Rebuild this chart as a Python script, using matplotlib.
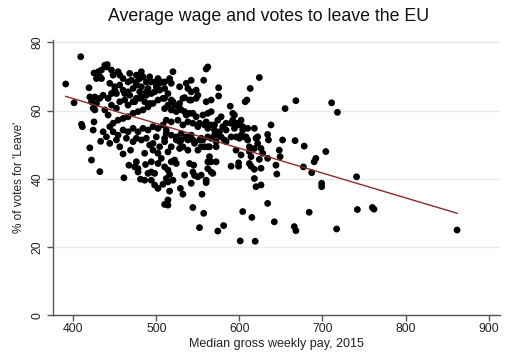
import numpy as np
import matplotlib
matplotlib.use("Agg")
import matplotlib.pyplot as plt

plt.rcParams['font.family'] = ['Liberation Sans', 'DejaVu Sans']

# median gross weekly pay (GBP, 2015) per local authority
pay = [
    391, 409, 401, 410, 411, 420, 422, 432, 425, 433,
    419, 425, 432, 441, 420, 422, 426, 430, 434, 438,
    440, 446, 448, 454, 456, 460, 434, 428, 444, 450,
    456, 466, 470, 476, 480, 488, 492, 498, 504, 500,
    426, 432, 436, 442, 424, 428, 438, 442, 446, 452,
    456, 462, 466, 472, 476, 482, 488, 494, 498, 504,
    510, 508, 502, 496, 490, 484, 478, 472, 466, 460,
    454, 448, 444, 424, 436, 440, 448, 454, 460, 466,
    472, 478, 484, 490, 496, 502, 508, 512, 476, 488,
    500, 510, 464, 452, 476, 482, 490, 502, 506, 472,
    466, 460, 480, 488, 452, 446, 482, 476, 468, 484,
    494, 538, 540, 532, 518, 522, 528, 548, 557, 514,
    510, 492, 486, 480, 474, 468, 462, 450, 518, 510,
    516, 520, 528, 536, 542, 562, 560, 624, 613, 609,
    607, 542, 550, 575, 575, 589, 592, 594, 534, 542,
    520, 528, 514, 510, 518, 524, 530, 536, 544, 548,
    556, 562, 566, 512, 518, 526, 532, 538, 544, 550,
    558, 562, 570, 574, 576, 584, 590, 594, 600, 604,
    610, 618, 622, 512, 518, 524, 530, 536, 542, 554,
    562, 570, 590, 602, 668, 655, 638, 634, 635, 652,
    667, 678, 626, 648, 649, 634, 612, 614, 624, 644,
    692, 690, 704, 677, 687, 645, 590, 614, 618, 620,
    626, 699, 699, 711, 718, 741, 684, 742, 760, 762,
    717, 862, 668, 666, 545, 544, 546, 550, 562, 562,
    566, 568, 560, 560, 572, 599, 599, 612, 618, 532,
    529, 555, 544, 557, 552, 574, 581, 601, 619, 634,
    604, 615, 642, 514, 514, 516, 514, 510, 514, 512,
    516, 522, 524, 554, 564, 626, 461, 460, 469, 467,
    476, 478, 478, 481, 487, 494, 494, 498, 494, 498,
    502, 508, 510, 502, 474, 486, 490, 502, 506, 518,
    520, 534, 542, 540, 444, 456, 472, 482, 496, 510,
    524, 532, 538, 546, 554, 556, 492, 504, 496, 486,
    528, 518, 514, 528, 538, 550, 562, 566, 572, 578,
    584, 600, 608, 620, 596, 602, 618, 622, 628, 580,
    602, 606, 610, 612, 596, 582, 574, 564, 572, 558,
    552, 544, 530, 566, 548, 560, 566, 578, 584, 592,
    596, 604, 534, 540, 552, 560, 566, 570,
]

# share of votes for Leave (%)
leave = [
    67.8, 75.8, 62.3, 56.0, 55.3, 49.1, 45.5, 42.1, 56.7, 51.0,
    66.7, 71.0, 70.0, 73.5, 64.0, 62.6, 60.2, 71.4, 71.9, 73.3,
    72.8, 71.9, 70.4, 71.4, 70.4, 69.4, 69.4, 69.4, 68.0, 67.0,
    67.5, 68.4, 68.9, 68.4, 69.4, 68.4, 69.9, 68.4, 68.0, 67.0,
    64.0, 63.6, 64.5, 63.6, 60.7, 62.1, 60.2, 58.7, 61.6, 60.7,
    62.6, 63.1, 61.6, 62.6, 63.6, 64.0, 64.5, 65.0, 65.5, 66.0,
    66.5, 63.6, 63.1, 62.1, 61.1, 60.2, 59.7, 59.2, 58.2, 57.7,
    57.2, 56.3, 55.3, 54.3, 53.8, 52.3, 53.8, 52.8, 54.3, 53.8,
    54.8, 53.8, 54.8, 54.3, 55.3, 54.8, 55.8, 54.3, 51.9, 51.9,
    52.3, 51.9, 51.9, 51.4, 67.5, 67.0, 66.5, 69.4, 68.4, 66.5,
    65.5, 66.0, 65.5, 65.5, 65.0, 65.0, 71.4, 70.4, 70.9, 69.9,
    68.4, 66.5, 63.1, 63.6, 63.1, 61.6, 60.7, 66.0, 68.9, 65.0,
    63.6, 62.1, 62.6, 63.6, 62.6, 64.5, 65.0, 66.0, 68.0, 68.4,
    69.4, 71.4, 67.0, 68.0, 68.9, 72.8, 72.2, 69.7, 66.5, 63.1,
    62.6, 65.5, 64.5, 66.7, 64.3, 61.3, 59.2, 58.7, 63.8, 63.1,
    62.6, 62.1, 61.6, 60.6, 60.2, 59.7, 60.2, 58.7, 59.2, 58.2,
    58.7, 59.2, 59.7, 57.2, 56.7, 57.2, 55.8, 56.7, 56.3, 55.3,
    55.8, 54.8, 55.8, 57.2, 53.8, 54.3, 56.3, 54.8, 55.8, 54.3,
    54.8, 54.8, 52.3, 53.3, 52.8, 52.3, 53.3, 52.3, 52.8, 51.9,
    52.3, 52.8, 52.3, 52.8, 62.9, 60.6, 55.8, 53.0, 51.4, 51.4,
    51.2, 49.6, 48.9, 48.4, 46.5, 46.0, 48.0, 46.5, 45.7, 44.0,
    46.0, 45.0, 48.0, 43.5, 41.8, 41.4, 43.7, 43.7, 40.1, 37.7,
    38.2, 38.7, 37.7, 62.3, 59.5, 40.6, 30.2, 31.0, 31.6, 31.1,
    25.3, 25.0, 24.8, 26.0, 44.0, 42.0, 41.0, 40.6, 45.0, 43.0,
    42.0, 41.6, 39.6, 38.9, 45.0, 43.7, 44.7, 44.5, 42.8, 35.5,
    37.2, 35.5, 31.6, 29.9, 25.7, 24.7, 26.3, 21.8, 21.7, 32.8,
    30.4, 28.7, 27.4, 33.8, 32.3, 36.4, 39.1, 43.5, 42.6, 40.1,
    41.3, 45.5, 44.5, 41.1, 46.5, 43.1, 40.3, 47.3, 48.4, 44.0,
    45.0, 43.0, 42.0, 39.9, 44.2, 45.0, 42.0, 41.6, 39.6, 38.2,
    37.2, 38.4, 32.5, 47.5, 43.5, 39.6, 41.6, 44.5, 46.0, 45.0,
    39.6, 41.1, 38.7, 44.5, 50.4, 49.4, 50.9, 51.4, 50.4, 50.9,
    51.4, 49.4, 51.4, 50.4, 49.4, 51.4, 49.9, 49.4, 48.4, 47.5,
    50.9, 49.4, 47.9, 48.9, 48.4, 48.4, 49.4, 51.9, 50.9, 52.3,
    50.9, 51.9, 52.3, 51.9, 48.4, 47.0, 48.9, 50.4, 47.5, 55.3,
    57.2, 52.3, 51.4, 49.4, 52.3, 51.4, 52.8, 49.4, 49.4, 49.4,
    51.4, 51.4, 51.4, 45.0, 63.6, 62.6, 63.1, 58.2, 56.3, 57.2,
    56.3, 55.3, 59.7, 59.2, 56.3, 56.7, 55.8, 54.3,
]

pay = np.array(pay, dtype=float)
leave = np.array(leave, dtype=float)

# linear fit, drawn over the observed pay range
slope, intercept = np.polyfit(pay, leave, 1)
fit_x = np.array([pay.min(), pay.max()])
fit_y = intercept + slope * fit_x

fig = plt.figure(figsize=(5.07, 3.61), dpi=100)
ax = fig.add_axes([0.1051, 0.1266, 0.881, 0.7626])

ax.scatter(pay, leave, s=24, color='black', edgecolors='none', zorder=3)
ax.plot(fit_x, fit_y, color='#8e2b2b', linewidth=1.0, zorder=4)

ax.set_xlim(376, 913.6)
ax.set_ylim(0, 80.7)
ax.set_xticks([400, 500, 600, 700, 800, 900])
ax.set_yticks([0, 20, 40, 60, 80])
ax.yaxis.grid(True, color='#e3ecef', linewidth=1.0, zorder=0)
ax.set_axisbelow(True)

for side in ('top', 'right'):
    ax.spines[side].set_visible(False)
for side in ('left', 'bottom'):
    ax.spines[side].set_color('#555555')
    ax.spines[side].set_linewidth(1.0)

ax.tick_params(axis='both', direction='out', length=4, width=1.0,
               color='#555555', labelsize=8.8, labelcolor='#222222')
ax.tick_params(axis='x', pad=1.5)
ax.tick_params(axis='y', pad=3)
for lbl in ax.get_yticklabels():
    lbl.set_rotation(90)
    lbl.set_va('center')

ax.set_xlabel("Median gross weekly pay, 2015", fontsize=9, color='#222222',
              labelpad=2)
ax.set_ylabel("% of votes for 'Leave'", fontsize=8.5, color='#222222',
              labelpad=5)
fig.text(0.53, 0.953, "Average wage and votes to leave the EU",
         ha='center', va='center', fontsize=12.8, color='#111111')

fig.savefig("out.png", dpi=100, facecolor='white')
